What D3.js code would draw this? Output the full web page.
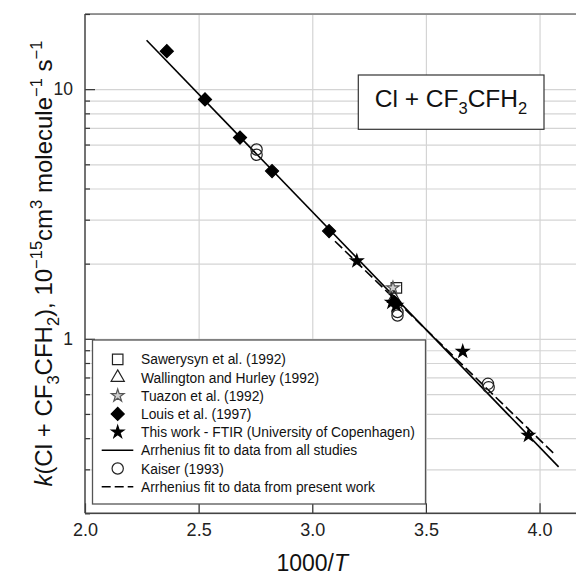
<!DOCTYPE html>
<html>
<head>
<meta charset="utf-8">
<script src="https://cdn.jsdelivr.net/npm/d3@7"></script>
<style>
  body { margin: 0; background: #fff; }
  svg { display: block; font-family: "Liberation Sans", Arial, sans-serif; }
</style>
</head>
<body>
<div id="app"></div>
<script>
// data (x = 1000/T, k in 1e-15 cm3 molecule-1 s-1)
const sawerysynX = [3.37];
const sawerysynK = [1.6];
const wallingtonX = [3.36];
const wallingtonK = [1.45];
const tuazonX = [3.355];
const tuazonK = [1.6];
const louisX = [2.36, 2.528, 2.682, 2.823, 3.074, 3.362];
const louisK = [14.2, 9.1, 6.4, 4.7, 2.7, 1.4];
const thisWorkX = [3.196, 3.35, 3.37, 3.662, 3.951];
const thisWorkK = [2.05, 1.4, 1.36, 0.89, 0.41];
const kaiserX = [2.755, 2.755, 3.375, 3.375, 3.773, 3.776];
const kaiserK = [5.73, 5.46, 1.28, 1.24, 0.66, 0.64];
const fitAllX = [2.271, 4.084];
const fitAllK = [15.7, 0.307];
const fitThisX = [3.1, 4.07];
const fitThisK = [2.46, 0.342];

const xTicks = [2.0, 2.5, 3.0, 3.5, 4.0];
const yMajor = [1, 10];
const yMinor = [0.2, 0.3, 0.4, 0.5, 0.6, 0.7, 0.8, 0.9, 2, 3, 4, 5, 6, 7, 8, 9, 20];

const legendNames = [
  "Sawerysyn et al. (1992)",
  "Wallington and Hurley (1992)",
  "Tuazon et al. (1992)",
  "Louis et al. (1997)",
  "This work - FTIR (University of Copenhagen)",
  "Arrhenius fit to data from all studies",
  "Kaiser (1993)",
  "Arrhenius fit to data from present work"
];
const legendKinds = ["square", "triangle", "greystar", "diamond", "star", "solid", "circle", "dashed"];

const W = 576, H = 578;
const plotL = 85, plotR = 585, plotT = 14, plotB = 513.3;

const svg = d3.create("svg").attr("width", W).attr("height", H);

const x = d3.scaleLinear().domain([2, 4.2]).range([plotL, plotR]);
const y = d3.scaleLog().domain([0.2, 20]).range([plotB, plotT]);

// gridlines
svg.append("g")
  .attr("transform", `translate(${plotL},0)`)
  .call(d3.axisRight(y).tickValues(yMinor.concat(yMajor)).tickSize(plotR - plotL).tickFormat(""))
  .call(g => g.select(".domain").remove())
  .call(g => g.selectAll("line").attr("stroke", "#d4d4d4").attr("stroke-width", 1.2));

svg.append("g")
  .attr("transform", `translate(0,${plotB})`)
  .call(d3.axisTop(x).tickValues(xTicks.slice(1)).tickSize(plotB - plotT).tickFormat(""))
  .call(g => g.select(".domain").remove())
  .call(g => g.selectAll("line").attr("stroke", "#d4d4d4").attr("stroke-width", 1.2));

// frame
svg.append("line").attr("x1", plotL).attr("x2", plotR).attr("y1", plotT).attr("y2", plotT)
  .attr("stroke", "#777").attr("stroke-width", 1.3);

// inward ticks
svg.append("g")
  .attr("transform", `translate(${plotL},0)`)
  .call(d3.axisRight(y).tickValues(yMinor).tickSize(5).tickFormat(""))
  .call(g => g.select(".domain").remove())
  .call(g => g.selectAll("line").attr("stroke", "#333").attr("stroke-width", 1.2));

svg.append("g")
  .attr("transform", `translate(${plotL},0)`)
  .call(d3.axisRight(y).tickValues(yMajor).tickSize(10).tickFormat(""))
  .call(g => g.select(".domain").remove())
  .call(g => g.selectAll("line").attr("stroke", "#333").attr("stroke-width", 1.2));

svg.append("g")
  .attr("transform", `translate(0,${plotB})`)
  .call(d3.axisTop(x).tickValues(xTicks).tickSize(10).tickFormat(""))
  .call(g => g.select(".domain").remove())
  .call(g => g.selectAll("line").attr("stroke", "#333").attr("stroke-width", 1.2));

// tick labels
svg.append("g")
  .attr("transform", `translate(${plotL},0)`)
  .call(d3.axisLeft(y).tickValues(yMajor).tickSize(0).tickPadding(12).tickFormat(d3.format("d")))
  .call(g => g.select(".domain").remove())
  .call(g => g.selectAll("text").attr("font-size", 17.5).attr("fill", "#222")
    .attr("font-family", "Liberation Sans, Arial, sans-serif"));

svg.append("g")
  .attr("transform", `translate(0,${plotB})`)
  .call(d3.axisBottom(x).tickValues(xTicks).tickSize(0).tickPadding(10).tickFormat(d3.format(".1f")))
  .call(g => g.select(".domain").remove())
  .call(g => g.selectAll("text").attr("font-size", 18).attr("fill", "#222")
    .attr("font-family", "Liberation Sans, Arial, sans-serif"));

// axis lines
svg.append("line").attr("x1", plotL).attr("x2", plotL).attr("y1", plotT).attr("y2", plotB)
  .attr("stroke", "#444").attr("stroke-width", 1.5);
svg.append("line").attr("x1", plotL).attr("x2", plotR).attr("y1", plotB).attr("y2", plotB)
  .attr("stroke", "#444").attr("stroke-width", 1.5);

// fit lines
const line = d3.line().x(d => x(d[0])).y(d => y(d[1]));
svg.append("path").attr("d", line(d3.zip(fitAllX, fitAllK)))
  .attr("fill", "none").attr("stroke", "#000").attr("stroke-width", 1.6);
svg.append("path").attr("d", line(d3.zip(fitThisX, fitThisK)))
  .attr("fill", "none").attr("stroke", "#000").attr("stroke-width", 1.6)
  .attr("stroke-dasharray", "10,4");

// markers
const sym = {
  square: d3.symbol(d3.symbolSquare, 110)(),
  triangle: d3.symbol(d3.symbolTriangle, 75)(),
  star: d3.symbol(d3.symbolStar, 48)(),
  greystar: d3.symbol(d3.symbolStar, 50)(),
  diamond: d3.symbol(d3.symbolSquare, 85)(),
  circle: d3.symbol(d3.symbolCircle, 100)()
};
const symStyle = {
  square: { fill: "none", stroke: "#222", rot: 0 },
  triangle: { fill: "none", stroke: "#222", rot: 0 },
  greystar: { fill: "#d0d0d0", stroke: "#555", rot: 0 },
  diamond: { fill: "#000", stroke: "#000", rot: 45 },
  star: { fill: "#000", stroke: "#000", rot: 0 },
  circle: { fill: "none", stroke: "#222", rot: 0 }
};

function drawSeries(xs, ks, kind) {
  const st = symStyle[kind];
  svg.append("g").selectAll("path").data(d3.zip(xs, ks)).join("path")
    .attr("d", sym[kind])
    .attr("transform", d => `translate(${x(d[0])},${y(d[1])}) rotate(${st.rot})`)
    .attr("fill", st.fill).attr("stroke", st.stroke).attr("stroke-width", 1.2);
}

drawSeries(kaiserX, kaiserK, "circle");
drawSeries(sawerysynX, sawerysynK, "square");
drawSeries(tuazonX, tuazonK, "greystar");
drawSeries(wallingtonX, wallingtonK, "triangle");
drawSeries(louisX, louisK, "diamond");
drawSeries(thisWorkX, thisWorkK, "star");

// legend
const lg = svg.append("g");
lg.append("rect").attr("x", 92.5).attr("y", 340).attr("width", 333).attr("height", 164)
  .attr("fill", "#fff").attr("stroke", "#555").attr("stroke-width", 1.3);
const rowY = d3.scaleLinear().domain([0, 7]).range([359.3, 486.7]);
legendKinds.forEach((kind, i) => {
  const cy = rowY(i);
  if (kind === "solid" || kind === "dashed") {
    lg.append("line").attr("x1", 101.7).attr("x2", 133.3).attr("y1", cy).attr("y2", cy)
      .attr("stroke", "#000").attr("stroke-width", 1.6)
      .attr("stroke-dasharray", kind === "dashed" ? "9,4" : null);
  } else {
    const st = symStyle[kind];
    lg.append("path").attr("d", sym[kind])
      .attr("transform", `translate(117.7,${cy}) rotate(${st.rot})`)
      .attr("fill", st.fill).attr("stroke", st.stroke).attr("stroke-width", 1.2);
  }
  lg.append("text").attr("x", 141).attr("y", cy + 5)
    .attr("font-size", 13.8).attr("fill", "#111").text(legendNames[i]);
});

// reaction label box
svg.append("rect").attr("x", 358.3).attr("y", 75).attr("width", 185.7).attr("height", 54.3)
  .attr("fill", "#fff").attr("stroke", "#333").attr("stroke-width", 1.2);
const rt = svg.append("text").attr("x", 451).attr("y", 107).attr("text-anchor", "middle")
  .attr("font-size", 24.5).attr("fill", "#111");
rt.append("tspan").text("Cl + CF");
rt.append("tspan").attr("dy", 7).attr("font-size", 16.5).text("3");
rt.append("tspan").attr("dy", -7).text("CFH");
rt.append("tspan").attr("dy", 7).attr("font-size", 16.5).text("2");

// x axis title
const xt = svg.append("text").attr("x", x(3.0)).attr("y", 571).attr("text-anchor", "middle")
  .attr("font-size", 23).attr("fill", "#111");
xt.append("tspan").text("1000/");
xt.append("tspan").attr("font-style", "italic").text("T");

// y axis title
const yt = svg.append("text")
  .attr("transform", `translate(52,${(plotT + plotB) / 2}) rotate(-90)`)
  .attr("text-anchor", "middle").attr("font-size", 24).attr("fill", "#111");
yt.append("tspan").attr("font-style", "italic").text("k");
yt.append("tspan").text("(Cl + CF");
yt.append("tspan").attr("dy", 7).attr("font-size", 16.5).text("3");
yt.append("tspan").attr("dy", -7).text("CFH");
yt.append("tspan").attr("dy", 7).attr("font-size", 16.5).text("2");
yt.append("tspan").attr("dy", -7).text("), 10");
yt.append("tspan").attr("dy", -10).attr("font-size", 16.5).text("\u221215");
yt.append("tspan").attr("dy", 10).text("cm");
yt.append("tspan").attr("dy", -10).attr("font-size", 16.5).text("3");
yt.append("tspan").attr("dy", 10).text(" molecule");
yt.append("tspan").attr("dy", -10).attr("font-size", 16.5).text("\u22121");
yt.append("tspan").attr("dy", 10).text(" s");
yt.append("tspan").attr("dy", -10).attr("font-size", 16.5).text("\u22121");

document.getElementById("app").append(svg.node());
</script>
</body>
</html>
